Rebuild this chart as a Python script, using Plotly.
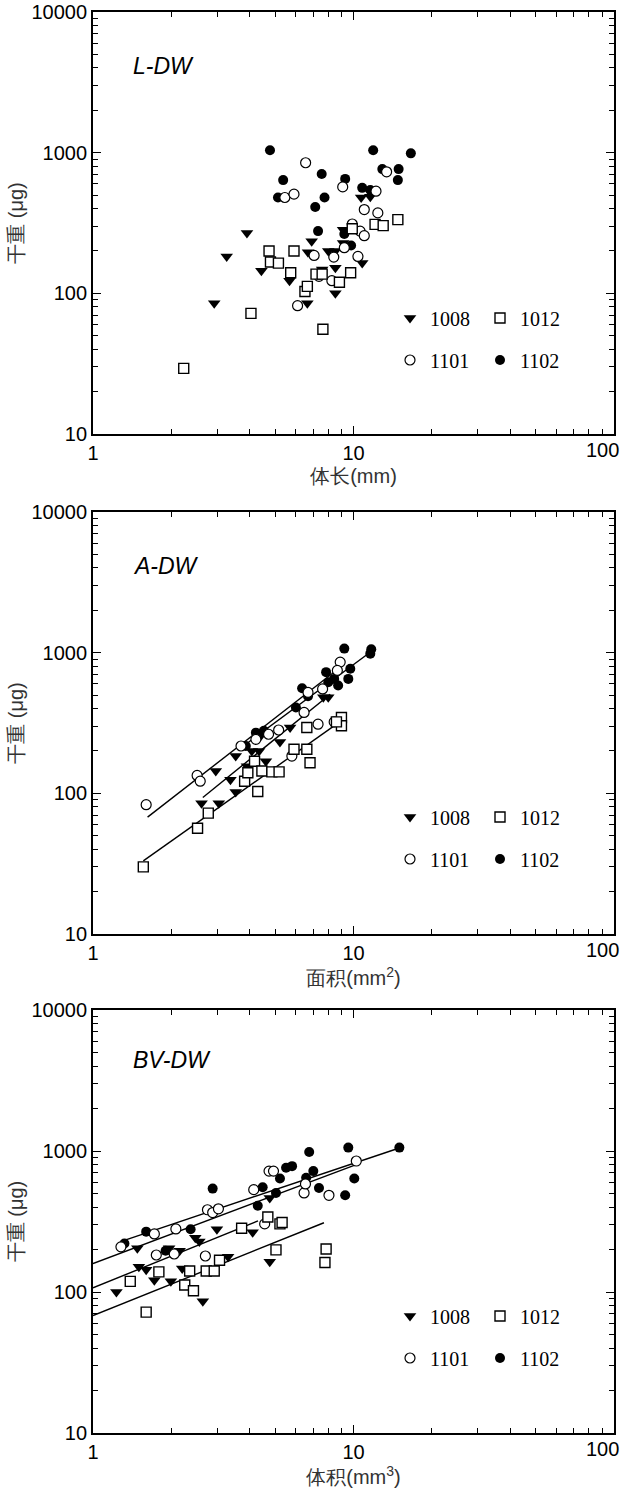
import plotly.graph_objects as go
import numpy as np

# ---------------- data ----------------
series = ["1008", "1012", "1101", "1102"]

# Panel 1: body length (mm) vs dry weight (ug)
L_1008_x = [3.90, 3.26, 2.92, 4.43, 5.68, 6.91, 6.69, 6.65, 7.58, 8.0, 8.52, 8.52, 8.52, 9.12, 9.12, 10.8, 10.7, 11.6]
L_1008_y = [268, 183, 85, 145, 123, 235, 196, 85, 148, 200, 200, 152, 100, 228, 283, 164, 480, 485]
L_1012_x = [2.23, 4.04, 4.74, 4.80, 5.15, 5.91, 5.74, 6.51, 6.65, 7.18, 7.58, 7.63, 8.83, 9.75, 9.89, 12.1, 13.0, 14.8]
L_1012_y = [29.3, 72, 200, 167, 164, 200, 140, 103, 112, 137, 137, 55.6, 120, 140, 288, 309, 303, 334]
L_1101_x = [6.55, 5.45, 5.91, 9.09, 12.2, 13.4, 11.0, 12.4, 9.89, 10.6, 11.0, 9.22, 7.06, 8.40, 10.4, 7.37, 8.26, 6.10]
L_1101_y = [848, 480, 507, 571, 532, 731, 394, 373, 311, 277, 257, 211, 186, 181, 183, 132, 123, 81.7]
L_1102_x = [4.78, 5.37, 5.13, 7.55, 7.74, 7.13, 7.31, 9.29, 9.22, 9.79, 10.8, 11.6, 11.9, 12.9, 14.9, 14.8, 16.6]
L_1102_y = [1040, 638, 480, 705, 480, 411, 277, 651, 264, 219, 562, 543, 1040, 764, 764, 638, 989]

# Panel 2: area (mm2) vs dry weight (ug)
A_1008_x = [2.96, 3.53, 2.61, 3.04, 3.37, 3.53, 3.90, 4.07, 4.34, 4.61, 4.40, 5.22, 5.71, 7.66, 8.0]
A_1008_y = [144, 184, 85, 85, 125, 102, 156, 200, 200, 169, 256, 232, 294, 482, 482]
A_1012_x = [1.56, 2.52, 2.77, 3.82, 3.93, 4.17, 4.29, 4.45, 4.86, 5.18, 5.91, 6.62, 6.81, 6.62, 8.99, 8.99, 8.60]
A_1012_y = [30, 56.5, 72.3, 122, 140, 169, 103, 144, 142, 142, 206, 206, 165, 294, 346, 302, 322]
A_1101_x = [1.60, 2.51, 2.58, 3.70, 5.16, 4.72, 5.80, 6.46, 7.31, 6.69, 8.89, 8.67, 8.43, 7.61, 4.22]
A_1101_y = [83, 134, 122, 217, 282, 263, 184, 376, 310, 522, 857, 748, 322, 552, 242]
A_1102_x = [9.22, 11.7, 11.6, 9.72, 9.55, 7.85, 8.43, 8.73, 6.35, 6.69, 6.01, 4.22, 4.53, 3.86, 8.0]
A_1102_y = [1069, 1057, 984, 768, 651, 727, 651, 584, 558, 490, 408, 270, 278, 217, 616]

# Panel 3: body volume (mm3) vs dry weight (ug)
BV_1008_x = [1.23, 1.48, 1.50, 1.60, 1.72, 1.96, 1.99, 2.15, 2.20, 2.47, 2.56, 2.64, 2.99, 3.30, 4.10, 4.77, 4.77]
BV_1008_y = [100, 204, 151, 144, 121, 204, 119, 196, 147, 243, 228, 86, 279, 178, 265, 164, 464]
BV_1012_x = [1.39, 1.60, 1.79, 2.25, 2.35, 2.43, 2.72, 2.92, 3.06, 3.72, 4.69, 5.04, 5.22, 5.32, 7.85, 7.77]
BV_1012_y = [119, 72, 139, 112, 141, 102, 141, 141, 168, 283, 340, 199, 304, 311, 202, 162]
BV_1101_x = [1.28, 1.72, 1.75, 2.08, 2.05, 2.70, 2.75, 2.88, 3.03, 4.14, 4.74, 4.93, 4.56, 6.46, 6.54, 8.05, 10.25]
BV_1101_y = [209, 258, 183, 280, 186, 180, 383, 366, 389, 532, 720, 720, 304, 504, 584, 485, 849]
BV_1102_x = [1.32, 1.60, 1.90, 2.37, 2.88, 4.29, 4.48, 5.04, 5.22, 5.51, 5.81, 6.76, 6.58, 7.01, 7.37, 9.29, 9.55, 10.07, 15.0]
BV_1102_y = [221, 268, 196, 279, 541, 409, 553, 504, 638, 760, 781, 984, 645, 720, 547, 485, 1057, 638, 1057]

# Power-law fits DW = a * X^b, with x range [x0, x1]
A_fit_a = [21.8, 18.5, 33.8, 35.1]
A_fit_b = [1.50, 1.31, 1.44, 1.37]
A_fit_x0 = [2.64, 1.56, 1.62, 3.86]
A_fit_x1 = [8.14, 9.05, 8.90, 11.8]

BV_fit_a = [107, 68, 159, 196]
BV_fit_b = [0.75, 0.743, 0.695, 0.62]
BV_fit_x0 = [1.0, 1.0, 1.0, 1.31]
BV_fit_x1 = [4.3, 7.7, 10.3, 15.2]

panel_labels = ["L-DW", "A-DW", "BV-DW"]
x_titles = ["体长(mm)", "面积(mm<sup>2</sup>)", "体积(mm<sup>3</sup>)"]
y_title = "干重 (μg)"
x_tickvals = [1, 10]
x_ticktext = ["1", "10"]
x_last_label = "100"

# ---------------- styling ----------------
W, H = 622, 1495
ML, MR, MT, MB = 93, 8, 12, 62
plot_w = W - ML - MR
plot_h = H - MT - MB
panel_px = [(12, 434), (512, 934), (1010, 1433)]  # top, bottom pixel

def py2paper(py):
    return (H - MB - py) / plot_h

def px2paper(px):
    return (px - ML) / plot_w

styles = {
    "1008": dict(symbol="triangle-down", size=11, color="black", line=dict(width=0)),
    "1012": dict(symbol="square", size=10, color="white", line=dict(color="black", width=1.4)),
    "1101": dict(symbol="circle", size=10, color="white", line=dict(color="black", width=1.2)),
    "1102": dict(symbol="circle", size=10, color="black", line=dict(width=0)),
}
draw_order = ["1102", "1008", "1101", "1012"]

data = {
    1: {"1008": (L_1008_x, L_1008_y), "1012": (L_1012_x, L_1012_y),
        "1101": (L_1101_x, L_1101_y), "1102": (L_1102_x, L_1102_y)},
    2: {"1008": (A_1008_x, A_1008_y), "1012": (A_1012_x, A_1012_y),
        "1101": (A_1101_x, A_1101_y), "1102": (A_1102_x, A_1102_y)},
    3: {"1008": (BV_1008_x, BV_1008_y), "1012": (BV_1012_x, BV_1012_y),
        "1101": (BV_1101_x, BV_1101_y), "1102": (BV_1102_x, BV_1102_y)},
}
fits = {
    2: (A_fit_a, A_fit_b, A_fit_x0, A_fit_x1),
    3: (BV_fit_a, BV_fit_b, BV_fit_x0, BV_fit_x1),
}

fig = go.Figure()

for p in (1, 2, 3):
    xa = "x" if p == 1 else f"x{p}"
    ya = "y" if p == 1 else f"y{p}"
    if p in fits:
        fa, fb, fx0, fx1 = fits[p]
        for i, s in enumerate(series):
            xs = np.logspace(np.log10(fx0[i]), np.log10(fx1[i]), 2)
            ys = fa[i] * xs ** fb[i]
            fig.add_trace(go.Scatter(x=xs, y=ys, mode="lines", xaxis=xa, yaxis=ya,
                                     line=dict(color="black", width=1.4),
                                     showlegend=False, hoverinfo="skip"))
    for s in draw_order:
        xs, ys = data[p][s]
        leg_row = 0 if s in ("1008", "1012") else 1
        leg_idx = (p - 1) * 2 + leg_row + 1
        leg_name = "legend" if leg_idx == 1 else f"legend{leg_idx}"
        fig.add_trace(go.Scatter(x=xs, y=ys, mode="markers", name=s,
                                 xaxis=xa, yaxis=ya, marker=styles[s],
                                 legend=leg_name, showlegend=True,
                                 legendrank=1 if s in ("1008", "1101") else 2))

tickfont = dict(family="Liberation Sans, Arial", size=20, color="black")
axis_common = dict(
    type="log", showline=True, linecolor="black", linewidth=1.8, mirror="ticks",
    ticks="inside", ticklen=8, tickwidth=1.4, tickcolor="black",
    showgrid=False, zeroline=False, automargin=False,
    tickfont=tickfont,
    minor=dict(ticks="inside", ticklen=5, tickwidth=1.2, tickcolor="black",
               dtick="D1", showgrid=False),
)

layout = dict(
    width=W, height=H, autosize=False, margin=dict(l=ML, r=MR, t=MT, b=MB, autoexpand=False),
    paper_bgcolor="white", plot_bgcolor="white",
    font=dict(family="Liberation Sans, Arial", color="black"),
)

for p in (1, 2, 3):
    xk = "xaxis" if p == 1 else f"xaxis{p}"
    yk = "yaxis" if p == 1 else f"yaxis{p}"
    top, bot = panel_px[p - 1]
    layout[xk] = dict(axis_common, range=[0, 2], domain=[0, 1],
                      anchor="y" if p == 1 else f"y{p}",
                      tickmode="array", tickvals=x_tickvals, ticktext=x_ticktext,
                      title=dict(text=x_titles[p - 1], standoff=6,
                                 font=dict(family="Liberation Sans, Arial", size=20, color="#333")))
    layout[yk] = dict(axis_common, range=[1, 4], domain=[py2paper(bot), py2paper(top)],
                      anchor="x" if p == 1 else f"x{p}", dtick=1, tickformat="d",
                      title=dict(text=y_title, standoff=2,
                                 font=dict(family="Liberation Sans, Arial", size=20, color="#333")))

# legends: two rows per panel
leg_rows_px = [(318, 360), (817, 859), (1316, 1358)]
for p in (1, 2, 3):
    for r in (0, 1):
        idx = (p - 1) * 2 + r + 1
        key = "legend" if idx == 1 else f"legend{idx}"
        layout[key] = dict(
            orientation="h", xref="paper", yref="paper",
            x=px2paper(390), y=py2paper(leg_rows_px[p - 1][r]),
            xanchor="left", yanchor="middle",
            entrywidth=45, entrywidthmode="pixels",
            bgcolor="rgba(0,0,0,0)", borderwidth=0,
            font=dict(family="Liberation Serif, Times New Roman", size=20, color="black"),
            traceorder="normal",
        )

fig.update_layout(**layout)

label_y = [0.873, 0.873, 0.881]
for p in (1, 2, 3):
    xr = "x domain" if p == 1 else f"x{p} domain"
    yr = "y domain" if p == 1 else f"y{p} domain"
    fig.add_annotation(text=f"<i>{panel_labels[p-1]}</i>", xref=xr, yref=yr,
                       x=0.073, y=label_y[p - 1], xanchor="left", yanchor="middle",
                       showarrow=False,
                       font=dict(family="Liberation Sans, Arial", size=23, color="black"))
    # last x tick label, pulled inside the figure edge as in the reference
    fig.add_annotation(text=x_last_label, xref=xr, yref=yr,
                       x=1, y=0, xanchor="right", yanchor="top", xshift=7, yshift=-3,
                       showarrow=False, font=tickfont)

fig.write_html("out.html", config={"displayModeBar": False},
               post_script="document.body.style.margin='0px';document.body.style.overflow='hidden';")
